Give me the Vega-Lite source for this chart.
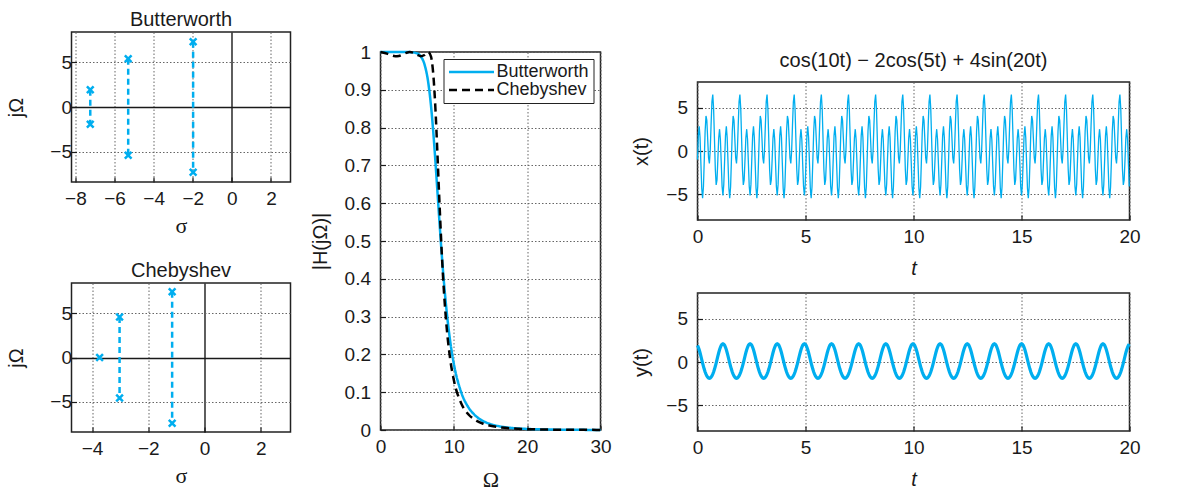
{
"$schema": "https://vega.github.io/schema/vega-lite/v6.json",
"background": "white",
"padding": {"left": 5.5, "top": 0, "right": 0, "bottom": 0},
"spacing": 18,
"resolve": {"scale": {"color": "independent", "strokeDash": "independent"}, "legend": {"color": "independent", "strokeDash": "independent"}},
"config": {
  "font": "Liberation Sans",
  "view": {"stroke": null},
  "axis": {"labelFont": "Liberation Sans", "labelFontSize": 19, "titleFont": "Liberation Sans", "titleFontSize": 20, "titleFontWeight": "normal", "titleColor": "#1a1a1a", "labelColor": "#1a1a1a", "domain": false, "tickColor": "#1a1a1a", "tickSize": -5, "tickWidth": 1.2, "labelPadding": 15, "titlePadding": 11, "grid": true, "gridColor": "#666666", "gridDash": [1.5, 2], "gridWidth": 1, "labelFlush": false, "labelOverlap": false},
  "axisX": {"labelPadding": 12},
  "title": {"font": "Liberation Sans", "fontSize": 20, "fontWeight": "normal", "color": "#1a1a1a", "offset": 2},
  "legend": {"labelFont": "Liberation Sans"}
},
"datasets": {
  "bw": [
    {"s": -7.24, "w": 1.94, "pair": "a"}, {"s": -7.24, "w": -1.94, "pair": "a"},
    {"s": -5.3, "w": 5.4, "pair": "b"}, {"s": -5.3, "w": -5.4, "pair": "b"},
    {"s": -1.98, "w": 7.3, "pair": "c"}, {"s": -1.98, "w": -7.3, "pair": "c"}
  ],
  "ch": [
    {"s": -3.73, "w": 0, "pair": "r"},
    {"s": -3.02, "w": 4.6, "pair": "b"}, {"s": -3.02, "w": -4.6, "pair": "b"},
    {"s": -1.15, "w": 7.45, "pair": "c"}, {"s": -1.15, "w": -7.45, "pair": "c"}
  ],
  "mag": [
    {"w": 0, "H": 1, "f": "Butterworth"}, {"w": 1, "H": 1, "f": "Butterworth"}, {"w": 2, "H": 1, "f": "Butterworth"}, {"w": 3, "H": 1, "f": "Butterworth"}, {"w": 4, "H": 0.9997, "f": "Butterworth"}, {"w": 5, "H": 0.9962, "f": "Butterworth"}, {"w": 5.5, "H": 0.9881, "f": "Butterworth"}, {"w": 6, "H": 0.9673, "f": "Butterworth"}, {"w": 6.5, "H": 0.9207, "f": "Butterworth"}, {"w": 7, "H": 0.8342, "f": "Butterworth"}, {"w": 7.25, "H": 0.7748, "f": "Butterworth"}, {"w": 7.5, "H": 0.7071, "f": "Butterworth"}, {"w": 7.75, "H": 0.6347, "f": "Butterworth"}, {"w": 8, "H": 0.5617, "f": "Butterworth"}, {"w": 8.5, "H": 0.4268, "f": "Butterworth"}, {"w": 9, "H": 0.3176, "f": "Butterworth"}, {"w": 9.5, "H": 0.2353, "f": "Butterworth"}, {"w": 10, "H": 0.1752, "f": "Butterworth"}, {"w": 11, "H": 0.1, "f": "Butterworth"}, {"w": 12, "H": 0.0595, "f": "Butterworth"}, {"w": 13, "H": 0.0369, "f": "Butterworth"}, {"w": 14, "H": 0.0236, "f": "Butterworth"}, {"w": 15, "H": 0.0156, "f": "Butterworth"}, {"w": 16, "H": 0.0106, "f": "Butterworth"}, {"w": 18, "H": 0.0052, "f": "Butterworth"}, {"w": 20, "H": 0.0028, "f": "Butterworth"}, {"w": 25, "H": 0.0007, "f": "Butterworth"}, {"w": 30, "H": 0.0002, "f": "Butterworth"},
    {"w": 0, "H": 1, "f": "Chebyshev"}, {"w": 1, "H": 0.995, "f": "Chebyshev"}, {"w": 1.5, "H": 0.9911, "f": "Chebyshev"}, {"w": 2, "H": 0.9889, "f": "Chebyshev"}, {"w": 2.5, "H": 0.9897, "f": "Chebyshev"}, {"w": 3, "H": 0.9933, "f": "Chebyshev"}, {"w": 3.5, "H": 0.9976, "f": "Chebyshev"}, {"w": 4, "H": 1, "f": "Chebyshev"}, {"w": 4.5, "H": 0.998, "f": "Chebyshev"}, {"w": 5, "H": 0.9928, "f": "Chebyshev"}, {"w": 5.5, "H": 0.9888, "f": "Chebyshev"}, {"w": 6, "H": 0.9921, "f": "Chebyshev"}, {"w": 6.5, "H": 1, "f": "Chebyshev"}, {"w": 6.9, "H": 0.987, "f": "Chebyshev"}, {"w": 7, "H": 0.9764, "f": "Chebyshev"}, {"w": 7.25, "H": 0.928, "f": "Chebyshev"}, {"w": 7.5, "H": 0.846, "f": "Chebyshev"}, {"w": 7.75, "H": 0.737, "f": "Chebyshev"}, {"w": 8, "H": 0.62, "f": "Chebyshev"}, {"w": 8.5, "H": 0.415, "f": "Chebyshev"}, {"w": 9, "H": 0.276, "f": "Chebyshev"}, {"w": 9.5, "H": 0.188, "f": "Chebyshev"}, {"w": 10, "H": 0.132, "f": "Chebyshev"}, {"w": 11, "H": 0.0707, "f": "Chebyshev"}, {"w": 12, "H": 0.0411, "f": "Chebyshev"}, {"w": 13, "H": 0.0255, "f": "Chebyshev"}, {"w": 14, "H": 0.0166, "f": "Chebyshev"}, {"w": 15, "H": 0.0112, "f": "Chebyshev"}, {"w": 16, "H": 0.0078, "f": "Chebyshev"}, {"w": 18, "H": 0.0041, "f": "Chebyshev"}, {"w": 20, "H": 0.0023, "f": "Chebyshev"}, {"w": 25, "H": 0.0007, "f": "Chebyshev"}, {"w": 30, "H": 0.0003, "f": "Chebyshev"}
  ],
  "sig": [
{"t":0,"x":-1,"y":1.93},{"t":0.039,"x":1.79,"y":1.71},{"t":0.079,"x":2.86,"y":1.41},{"t":0.118,"x":1.55,"y":1.07},{"t":0.157,"x":-1.41,"y":0.68},{"t":0.196,"x":-4.32,"y":0.28},{"t":0.236,"x":-5.47,"y":-0.12},{"t":0.275,"x":-4.14,"y":-0.5},{"t":0.314,"x":-1,"y":-0.85},{"t":0.353,"x":2.29,"y":-1.16},{"t":0.393,"x":4.06,"y":-1.41},{"t":0.432,"x":3.56,"y":-1.62},{"t":0.471,"x":1.41,"y":-1.76},{"t":0.511,"x":-0.78,"y":-1.85},{"t":0.55,"x":-1.45,"y":-1.88},{"t":0.589,"x":0.06,"y":-1.85},{"t":0.628,"x":3,"y":-1.76},{"t":0.668,"x":5.71,"y":-1.62},{"t":0.707,"x":6.55,"y":-1.41},{"t":0.746,"x":4.87,"y":-1.16},{"t":0.785,"x":1.41,"y":-0.85},{"t":0.825,"x":-2.1,"y":-0.5},{"t":0.864,"x":-3.94,"y":-0.12},{"t":0.903,"x":-3.36,"y":0.28},{"t":0.942,"x":-1,"y":0.68},{"t":0.982,"x":1.51,"y":1.07},{"t":1.021,"x":2.53,"y":1.41},{"t":1.06,"x":1.33,"y":1.71},{"t":1.1,"x":-1.41,"y":1.93},{"t":1.139,"x":-4.11,"y":2.07},{"t":1.178,"x":-5.14,"y":2.12},{"t":1.217,"x":-3.87,"y":2.07},
{"t":1.257,"x":-1,"y":1.93},{"t":1.296,"x":1.79,"y":1.71},{"t":1.335,"x":2.86,"y":1.41},{"t":1.374,"x":1.55,"y":1.07},{"t":1.414,"x":-1.41,"y":0.68},{"t":1.453,"x":-4.32,"y":0.28},{"t":1.492,"x":-5.47,"y":-0.12},{"t":1.532,"x":-4.14,"y":-0.5},{"t":1.571,"x":-1,"y":-0.85},{"t":1.61,"x":2.29,"y":-1.16},{"t":1.649,"x":4.06,"y":-1.41},{"t":1.689,"x":3.56,"y":-1.62},{"t":1.728,"x":1.41,"y":-1.76},{"t":1.767,"x":-0.78,"y":-1.85},{"t":1.806,"x":-1.45,"y":-1.88},{"t":1.846,"x":0.06,"y":-1.85},{"t":1.885,"x":3,"y":-1.76},{"t":1.924,"x":5.71,"y":-1.62},{"t":1.963,"x":6.55,"y":-1.41},{"t":2.003,"x":4.87,"y":-1.16},{"t":2.042,"x":1.41,"y":-0.85},{"t":2.081,"x":-2.1,"y":-0.5},{"t":2.121,"x":-3.94,"y":-0.12},{"t":2.16,"x":-3.36,"y":0.28},{"t":2.199,"x":-1,"y":0.68},{"t":2.238,"x":1.51,"y":1.07},{"t":2.278,"x":2.53,"y":1.41},{"t":2.317,"x":1.33,"y":1.71},{"t":2.356,"x":-1.41,"y":1.93},{"t":2.395,"x":-4.11,"y":2.07},{"t":2.435,"x":-5.14,"y":2.12},{"t":2.474,"x":-3.87,"y":2.07},
{"t":2.513,"x":-1,"y":1.93},{"t":2.553,"x":1.79,"y":1.71},{"t":2.592,"x":2.86,"y":1.41},{"t":2.631,"x":1.55,"y":1.07},{"t":2.67,"x":-1.41,"y":0.68},{"t":2.71,"x":-4.32,"y":0.28},{"t":2.749,"x":-5.47,"y":-0.12},{"t":2.788,"x":-4.14,"y":-0.5},{"t":2.827,"x":-1,"y":-0.85},{"t":2.867,"x":2.29,"y":-1.16},{"t":2.906,"x":4.06,"y":-1.41},{"t":2.945,"x":3.56,"y":-1.62},{"t":2.985,"x":1.41,"y":-1.76},{"t":3.024,"x":-0.78,"y":-1.85},{"t":3.063,"x":-1.45,"y":-1.88},{"t":3.102,"x":0.06,"y":-1.85},{"t":3.142,"x":3,"y":-1.76},{"t":3.181,"x":5.71,"y":-1.62},{"t":3.22,"x":6.55,"y":-1.41},{"t":3.259,"x":4.87,"y":-1.16},{"t":3.299,"x":1.41,"y":-0.85},{"t":3.338,"x":-2.1,"y":-0.5},{"t":3.377,"x":-3.94,"y":-0.12},{"t":3.416,"x":-3.36,"y":0.28},{"t":3.456,"x":-1,"y":0.68},{"t":3.495,"x":1.51,"y":1.07},{"t":3.534,"x":2.53,"y":1.41},{"t":3.574,"x":1.33,"y":1.71},{"t":3.613,"x":-1.41,"y":1.93},{"t":3.652,"x":-4.11,"y":2.07},{"t":3.691,"x":-5.14,"y":2.12},{"t":3.731,"x":-3.87,"y":2.07},
{"t":3.77,"x":-1,"y":1.93},{"t":3.809,"x":1.79,"y":1.71},{"t":3.848,"x":2.86,"y":1.41},{"t":3.888,"x":1.55,"y":1.07},{"t":3.927,"x":-1.41,"y":0.68},{"t":3.966,"x":-4.32,"y":0.28},{"t":4.006,"x":-5.47,"y":-0.12},{"t":4.045,"x":-4.14,"y":-0.5},{"t":4.084,"x":-1,"y":-0.85},{"t":4.123,"x":2.29,"y":-1.16},{"t":4.163,"x":4.06,"y":-1.41},{"t":4.202,"x":3.56,"y":-1.62},{"t":4.241,"x":1.41,"y":-1.76},{"t":4.28,"x":-0.78,"y":-1.85},{"t":4.32,"x":-1.45,"y":-1.88},{"t":4.359,"x":0.06,"y":-1.85},{"t":4.398,"x":3,"y":-1.76},{"t":4.438,"x":5.71,"y":-1.62},{"t":4.477,"x":6.55,"y":-1.41},{"t":4.516,"x":4.87,"y":-1.16},{"t":4.555,"x":1.41,"y":-0.85},{"t":4.595,"x":-2.1,"y":-0.5},{"t":4.634,"x":-3.94,"y":-0.12},{"t":4.673,"x":-3.36,"y":0.28},{"t":4.712,"x":-1,"y":0.68},{"t":4.752,"x":1.51,"y":1.07},{"t":4.791,"x":2.53,"y":1.41},{"t":4.83,"x":1.33,"y":1.71},{"t":4.869,"x":-1.41,"y":1.93},{"t":4.909,"x":-4.11,"y":2.07},{"t":4.948,"x":-5.14,"y":2.12},{"t":4.987,"x":-3.87,"y":2.07},
{"t":5.027,"x":-1,"y":1.93},{"t":5.066,"x":1.79,"y":1.71},{"t":5.105,"x":2.86,"y":1.41},{"t":5.144,"x":1.55,"y":1.07},{"t":5.184,"x":-1.41,"y":0.68},{"t":5.223,"x":-4.32,"y":0.28},{"t":5.262,"x":-5.47,"y":-0.12},{"t":5.301,"x":-4.14,"y":-0.5},{"t":5.341,"x":-1,"y":-0.85},{"t":5.38,"x":2.29,"y":-1.16},{"t":5.419,"x":4.06,"y":-1.41},{"t":5.459,"x":3.56,"y":-1.62},{"t":5.498,"x":1.41,"y":-1.76},{"t":5.537,"x":-0.78,"y":-1.85},{"t":5.576,"x":-1.45,"y":-1.88},{"t":5.616,"x":0.06,"y":-1.85},{"t":5.655,"x":3,"y":-1.76},{"t":5.694,"x":5.71,"y":-1.62},{"t":5.733,"x":6.55,"y":-1.41},{"t":5.773,"x":4.87,"y":-1.16},{"t":5.812,"x":1.41,"y":-0.85},{"t":5.851,"x":-2.1,"y":-0.5},{"t":5.89,"x":-3.94,"y":-0.12},{"t":5.93,"x":-3.36,"y":0.28},{"t":5.969,"x":-1,"y":0.68},{"t":6.008,"x":1.51,"y":1.07},{"t":6.048,"x":2.53,"y":1.41},{"t":6.087,"x":1.33,"y":1.71},{"t":6.126,"x":-1.41,"y":1.93},{"t":6.165,"x":-4.11,"y":2.07},{"t":6.205,"x":-5.14,"y":2.12},{"t":6.244,"x":-3.87,"y":2.07},
{"t":6.283,"x":-1,"y":1.93},{"t":6.322,"x":1.79,"y":1.71},{"t":6.362,"x":2.86,"y":1.41},{"t":6.401,"x":1.55,"y":1.07},{"t":6.44,"x":-1.41,"y":0.68},{"t":6.48,"x":-4.32,"y":0.28},{"t":6.519,"x":-5.47,"y":-0.12},{"t":6.558,"x":-4.14,"y":-0.5},{"t":6.597,"x":-1,"y":-0.85},{"t":6.637,"x":2.29,"y":-1.16},{"t":6.676,"x":4.06,"y":-1.41},{"t":6.715,"x":3.56,"y":-1.62},{"t":6.754,"x":1.41,"y":-1.76},{"t":6.794,"x":-0.78,"y":-1.85},{"t":6.833,"x":-1.45,"y":-1.88},{"t":6.872,"x":0.06,"y":-1.85},{"t":6.912,"x":3,"y":-1.76},{"t":6.951,"x":5.71,"y":-1.62},{"t":6.99,"x":6.55,"y":-1.41},{"t":7.029,"x":4.87,"y":-1.16},{"t":7.069,"x":1.41,"y":-0.85},{"t":7.108,"x":-2.1,"y":-0.5},{"t":7.147,"x":-3.94,"y":-0.12},{"t":7.186,"x":-3.36,"y":0.28},{"t":7.226,"x":-1,"y":0.68},{"t":7.265,"x":1.51,"y":1.07},{"t":7.304,"x":2.53,"y":1.41},{"t":7.343,"x":1.33,"y":1.71},{"t":7.383,"x":-1.41,"y":1.93},{"t":7.422,"x":-4.11,"y":2.07},{"t":7.461,"x":-5.14,"y":2.12},{"t":7.501,"x":-3.87,"y":2.07},
{"t":7.54,"x":-1,"y":1.93},{"t":7.579,"x":1.79,"y":1.71},{"t":7.618,"x":2.86,"y":1.41},{"t":7.658,"x":1.55,"y":1.07},{"t":7.697,"x":-1.41,"y":0.68},{"t":7.736,"x":-4.32,"y":0.28},{"t":7.775,"x":-5.47,"y":-0.12},{"t":7.815,"x":-4.14,"y":-0.5},{"t":7.854,"x":-1,"y":-0.85},{"t":7.893,"x":2.29,"y":-1.16},{"t":7.933,"x":4.06,"y":-1.41},{"t":7.972,"x":3.56,"y":-1.62},{"t":8.011,"x":1.41,"y":-1.76},{"t":8.05,"x":-0.78,"y":-1.85},{"t":8.09,"x":-1.45,"y":-1.88},{"t":8.129,"x":0.06,"y":-1.85},{"t":8.168,"x":3,"y":-1.76},{"t":8.207,"x":5.71,"y":-1.62},{"t":8.247,"x":6.55,"y":-1.41},{"t":8.286,"x":4.87,"y":-1.16},{"t":8.325,"x":1.41,"y":-0.85},{"t":8.364,"x":-2.1,"y":-0.5},{"t":8.404,"x":-3.94,"y":-0.12},{"t":8.443,"x":-3.36,"y":0.28},{"t":8.482,"x":-1,"y":0.68},{"t":8.522,"x":1.51,"y":1.07},{"t":8.561,"x":2.53,"y":1.41},{"t":8.6,"x":1.33,"y":1.71},{"t":8.639,"x":-1.41,"y":1.93},{"t":8.679,"x":-4.11,"y":2.07},{"t":8.718,"x":-5.14,"y":2.12},{"t":8.757,"x":-3.87,"y":2.07},
{"t":8.796,"x":-1,"y":1.93},{"t":8.836,"x":1.79,"y":1.71},{"t":8.875,"x":2.86,"y":1.41},{"t":8.914,"x":1.55,"y":1.07},{"t":8.954,"x":-1.41,"y":0.68},{"t":8.993,"x":-4.32,"y":0.28},{"t":9.032,"x":-5.47,"y":-0.12},{"t":9.071,"x":-4.14,"y":-0.5},{"t":9.111,"x":-1,"y":-0.85},{"t":9.15,"x":2.29,"y":-1.16},{"t":9.189,"x":4.06,"y":-1.41},{"t":9.228,"x":3.56,"y":-1.62},{"t":9.268,"x":1.41,"y":-1.76},{"t":9.307,"x":-0.78,"y":-1.85},{"t":9.346,"x":-1.45,"y":-1.88},{"t":9.386,"x":0.06,"y":-1.85},{"t":9.425,"x":3,"y":-1.76},{"t":9.464,"x":5.71,"y":-1.62},{"t":9.503,"x":6.55,"y":-1.41},{"t":9.543,"x":4.87,"y":-1.16},{"t":9.582,"x":1.41,"y":-0.85},{"t":9.621,"x":-2.1,"y":-0.5},{"t":9.66,"x":-3.94,"y":-0.12},{"t":9.7,"x":-3.36,"y":0.28},{"t":9.739,"x":-1,"y":0.68},{"t":9.778,"x":1.51,"y":1.07},{"t":9.817,"x":2.53,"y":1.41},{"t":9.857,"x":1.33,"y":1.71},{"t":9.896,"x":-1.41,"y":1.93},{"t":9.935,"x":-4.11,"y":2.07},{"t":9.975,"x":-5.14,"y":2.12},{"t":10.014,"x":-3.87,"y":2.07},
{"t":10.053,"x":-1,"y":1.93},{"t":10.092,"x":1.79,"y":1.71},{"t":10.132,"x":2.86,"y":1.41},{"t":10.171,"x":1.55,"y":1.07},{"t":10.21,"x":-1.41,"y":0.68},{"t":10.249,"x":-4.32,"y":0.28},{"t":10.289,"x":-5.47,"y":-0.12},{"t":10.328,"x":-4.14,"y":-0.5},{"t":10.367,"x":-1,"y":-0.85},{"t":10.407,"x":2.29,"y":-1.16},{"t":10.446,"x":4.06,"y":-1.41},{"t":10.485,"x":3.56,"y":-1.62},{"t":10.524,"x":1.41,"y":-1.76},{"t":10.564,"x":-0.78,"y":-1.85},{"t":10.603,"x":-1.45,"y":-1.88},{"t":10.642,"x":0.06,"y":-1.85},{"t":10.681,"x":3,"y":-1.76},{"t":10.721,"x":5.71,"y":-1.62},{"t":10.76,"x":6.55,"y":-1.41},{"t":10.799,"x":4.87,"y":-1.16},{"t":10.839,"x":1.41,"y":-0.85},{"t":10.878,"x":-2.1,"y":-0.5},{"t":10.917,"x":-3.94,"y":-0.12},{"t":10.956,"x":-3.36,"y":0.28},{"t":10.996,"x":-1,"y":0.68},{"t":11.035,"x":1.51,"y":1.07},{"t":11.074,"x":2.53,"y":1.41},{"t":11.113,"x":1.33,"y":1.71},{"t":11.153,"x":-1.41,"y":1.93},{"t":11.192,"x":-4.11,"y":2.07},{"t":11.231,"x":-5.14,"y":2.12},{"t":11.27,"x":-3.87,"y":2.07},
{"t":11.31,"x":-1,"y":1.93},{"t":11.349,"x":1.79,"y":1.71},{"t":11.388,"x":2.86,"y":1.41},{"t":11.428,"x":1.55,"y":1.07},{"t":11.467,"x":-1.41,"y":0.68},{"t":11.506,"x":-4.32,"y":0.28},{"t":11.545,"x":-5.47,"y":-0.12},{"t":11.585,"x":-4.14,"y":-0.5},{"t":11.624,"x":-1,"y":-0.85},{"t":11.663,"x":2.29,"y":-1.16},{"t":11.702,"x":4.06,"y":-1.41},{"t":11.742,"x":3.56,"y":-1.62},{"t":11.781,"x":1.41,"y":-1.76},{"t":11.82,"x":-0.78,"y":-1.85},{"t":11.86,"x":-1.45,"y":-1.88},{"t":11.899,"x":0.06,"y":-1.85},{"t":11.938,"x":3,"y":-1.76},{"t":11.977,"x":5.71,"y":-1.62},{"t":12.017,"x":6.55,"y":-1.41},{"t":12.056,"x":4.87,"y":-1.16},{"t":12.095,"x":1.41,"y":-0.85},{"t":12.134,"x":-2.1,"y":-0.5},{"t":12.174,"x":-3.94,"y":-0.12},{"t":12.213,"x":-3.36,"y":0.28},{"t":12.252,"x":-1,"y":0.68},{"t":12.291,"x":1.51,"y":1.07},{"t":12.331,"x":2.53,"y":1.41},{"t":12.37,"x":1.33,"y":1.71},{"t":12.409,"x":-1.41,"y":1.93},{"t":12.449,"x":-4.11,"y":2.07},{"t":12.488,"x":-5.14,"y":2.12},{"t":12.527,"x":-3.87,"y":2.07},
{"t":12.566,"x":-1,"y":1.93},{"t":12.606,"x":1.79,"y":1.71},{"t":12.645,"x":2.86,"y":1.41},{"t":12.684,"x":1.55,"y":1.07},{"t":12.723,"x":-1.41,"y":0.68},{"t":12.763,"x":-4.32,"y":0.28},{"t":12.802,"x":-5.47,"y":-0.12},{"t":12.841,"x":-4.14,"y":-0.5},{"t":12.881,"x":-1,"y":-0.85},{"t":12.92,"x":2.29,"y":-1.16},{"t":12.959,"x":4.06,"y":-1.41},{"t":12.998,"x":3.56,"y":-1.62},{"t":13.038,"x":1.41,"y":-1.76},{"t":13.077,"x":-0.78,"y":-1.85},{"t":13.116,"x":-1.45,"y":-1.88},{"t":13.155,"x":0.06,"y":-1.85},{"t":13.195,"x":3,"y":-1.76},{"t":13.234,"x":5.71,"y":-1.62},{"t":13.273,"x":6.55,"y":-1.41},{"t":13.313,"x":4.87,"y":-1.16},{"t":13.352,"x":1.41,"y":-0.85},{"t":13.391,"x":-2.1,"y":-0.5},{"t":13.43,"x":-3.94,"y":-0.12},{"t":13.47,"x":-3.36,"y":0.28},{"t":13.509,"x":-1,"y":0.68},{"t":13.548,"x":1.51,"y":1.07},{"t":13.587,"x":2.53,"y":1.41},{"t":13.627,"x":1.33,"y":1.71},{"t":13.666,"x":-1.41,"y":1.93},{"t":13.705,"x":-4.11,"y":2.07},{"t":13.744,"x":-5.14,"y":2.12},{"t":13.784,"x":-3.87,"y":2.07},
{"t":13.823,"x":-1,"y":1.93},{"t":13.862,"x":1.79,"y":1.71},{"t":13.902,"x":2.86,"y":1.41},{"t":13.941,"x":1.55,"y":1.07},{"t":13.98,"x":-1.41,"y":0.68},{"t":14.019,"x":-4.32,"y":0.28},{"t":14.059,"x":-5.47,"y":-0.12},{"t":14.098,"x":-4.14,"y":-0.5},{"t":14.137,"x":-1,"y":-0.85},{"t":14.176,"x":2.29,"y":-1.16},{"t":14.216,"x":4.06,"y":-1.41},{"t":14.255,"x":3.56,"y":-1.62},{"t":14.294,"x":1.41,"y":-1.76},{"t":14.334,"x":-0.78,"y":-1.85},{"t":14.373,"x":-1.45,"y":-1.88},{"t":14.412,"x":0.06,"y":-1.85},{"t":14.451,"x":3,"y":-1.76},{"t":14.491,"x":5.71,"y":-1.62},{"t":14.53,"x":6.55,"y":-1.41},{"t":14.569,"x":4.87,"y":-1.16},{"t":14.608,"x":1.41,"y":-0.85},{"t":14.648,"x":-2.1,"y":-0.5},{"t":14.687,"x":-3.94,"y":-0.12},{"t":14.726,"x":-3.36,"y":0.28},{"t":14.765,"x":-1,"y":0.68},{"t":14.805,"x":1.51,"y":1.07},{"t":14.844,"x":2.53,"y":1.41},{"t":14.883,"x":1.33,"y":1.71},{"t":14.923,"x":-1.41,"y":1.93},{"t":14.962,"x":-4.11,"y":2.07},{"t":15.001,"x":-5.14,"y":2.12},{"t":15.04,"x":-3.87,"y":2.07},
{"t":15.08,"x":-1,"y":1.93},{"t":15.119,"x":1.79,"y":1.71},{"t":15.158,"x":2.86,"y":1.41},{"t":15.197,"x":1.55,"y":1.07},{"t":15.237,"x":-1.41,"y":0.68},{"t":15.276,"x":-4.32,"y":0.28},{"t":15.315,"x":-5.47,"y":-0.12},{"t":15.355,"x":-4.14,"y":-0.5},{"t":15.394,"x":-1,"y":-0.85},{"t":15.433,"x":2.29,"y":-1.16},{"t":15.472,"x":4.06,"y":-1.41},{"t":15.512,"x":3.56,"y":-1.62},{"t":15.551,"x":1.41,"y":-1.76},{"t":15.59,"x":-0.78,"y":-1.85},{"t":15.629,"x":-1.45,"y":-1.88},{"t":15.669,"x":0.06,"y":-1.85},{"t":15.708,"x":3,"y":-1.76},{"t":15.747,"x":5.71,"y":-1.62},{"t":15.787,"x":6.55,"y":-1.41},{"t":15.826,"x":4.87,"y":-1.16},{"t":15.865,"x":1.41,"y":-0.85},{"t":15.904,"x":-2.1,"y":-0.5},{"t":15.944,"x":-3.94,"y":-0.12},{"t":15.983,"x":-3.36,"y":0.28},{"t":16.022,"x":-1,"y":0.68},{"t":16.061,"x":1.51,"y":1.07},{"t":16.101,"x":2.53,"y":1.41},{"t":16.14,"x":1.33,"y":1.71},{"t":16.179,"x":-1.41,"y":1.93},{"t":16.218,"x":-4.11,"y":2.07},{"t":16.258,"x":-5.14,"y":2.12},{"t":16.297,"x":-3.87,"y":2.07},
{"t":16.336,"x":-1,"y":1.93},{"t":16.376,"x":1.79,"y":1.71},{"t":16.415,"x":2.86,"y":1.41},{"t":16.454,"x":1.55,"y":1.07},{"t":16.493,"x":-1.41,"y":0.68},{"t":16.533,"x":-4.32,"y":0.28},{"t":16.572,"x":-5.47,"y":-0.12},{"t":16.611,"x":-4.14,"y":-0.5},{"t":16.65,"x":-1,"y":-0.85},{"t":16.69,"x":2.29,"y":-1.16},{"t":16.729,"x":4.06,"y":-1.41},{"t":16.768,"x":3.56,"y":-1.62},{"t":16.808,"x":1.41,"y":-1.76},{"t":16.847,"x":-0.78,"y":-1.85},{"t":16.886,"x":-1.45,"y":-1.88},{"t":16.925,"x":0.06,"y":-1.85},{"t":16.965,"x":3,"y":-1.76},{"t":17.004,"x":5.71,"y":-1.62},{"t":17.043,"x":6.55,"y":-1.41},{"t":17.082,"x":4.87,"y":-1.16},{"t":17.122,"x":1.41,"y":-0.85},{"t":17.161,"x":-2.1,"y":-0.5},{"t":17.2,"x":-3.94,"y":-0.12},{"t":17.239,"x":-3.36,"y":0.28},{"t":17.279,"x":-1,"y":0.68},{"t":17.318,"x":1.51,"y":1.07},{"t":17.357,"x":2.53,"y":1.41},{"t":17.397,"x":1.33,"y":1.71},{"t":17.436,"x":-1.41,"y":1.93},{"t":17.475,"x":-4.11,"y":2.07},{"t":17.514,"x":-5.14,"y":2.12},{"t":17.554,"x":-3.87,"y":2.07},
{"t":17.593,"x":-1,"y":1.93},{"t":17.632,"x":1.79,"y":1.71},{"t":17.671,"x":2.86,"y":1.41},{"t":17.711,"x":1.55,"y":1.07},{"t":17.75,"x":-1.41,"y":0.68},{"t":17.789,"x":-4.32,"y":0.28},{"t":17.829,"x":-5.47,"y":-0.12},{"t":17.868,"x":-4.14,"y":-0.5},{"t":17.907,"x":-1,"y":-0.85},{"t":17.946,"x":2.29,"y":-1.16},{"t":17.986,"x":4.06,"y":-1.41},{"t":18.025,"x":3.56,"y":-1.62},{"t":18.064,"x":1.41,"y":-1.76},{"t":18.103,"x":-0.78,"y":-1.85},{"t":18.143,"x":-1.45,"y":-1.88},{"t":18.182,"x":0.06,"y":-1.85},{"t":18.221,"x":3,"y":-1.76},{"t":18.261,"x":5.71,"y":-1.62},{"t":18.3,"x":6.55,"y":-1.41},{"t":18.339,"x":4.87,"y":-1.16},{"t":18.378,"x":1.41,"y":-0.85},{"t":18.418,"x":-2.1,"y":-0.5},{"t":18.457,"x":-3.94,"y":-0.12},{"t":18.496,"x":-3.36,"y":0.28},{"t":18.535,"x":-1,"y":0.68},{"t":18.575,"x":1.51,"y":1.07},{"t":18.614,"x":2.53,"y":1.41},{"t":18.653,"x":1.33,"y":1.71},{"t":18.692,"x":-1.41,"y":1.93},{"t":18.732,"x":-4.11,"y":2.07},{"t":18.771,"x":-5.14,"y":2.12},{"t":18.81,"x":-3.87,"y":2.07},
{"t":18.85,"x":-1,"y":1.93},{"t":18.889,"x":1.79,"y":1.71},{"t":18.928,"x":2.86,"y":1.41},{"t":18.967,"x":1.55,"y":1.07},{"t":19.007,"x":-1.41,"y":0.68},{"t":19.046,"x":-4.32,"y":0.28},{"t":19.085,"x":-5.47,"y":-0.12},{"t":19.124,"x":-4.14,"y":-0.5},{"t":19.164,"x":-1,"y":-0.85},{"t":19.203,"x":2.29,"y":-1.16},{"t":19.242,"x":4.06,"y":-1.41},{"t":19.282,"x":3.56,"y":-1.62},{"t":19.321,"x":1.41,"y":-1.76},{"t":19.36,"x":-0.78,"y":-1.85},{"t":19.399,"x":-1.45,"y":-1.88},{"t":19.439,"x":0.06,"y":-1.85},{"t":19.478,"x":3,"y":-1.76},{"t":19.517,"x":5.71,"y":-1.62},{"t":19.556,"x":6.55,"y":-1.41},{"t":19.596,"x":4.87,"y":-1.16},{"t":19.635,"x":1.41,"y":-0.85},{"t":19.674,"x":-2.1,"y":-0.5},{"t":19.714,"x":-3.94,"y":-0.12},{"t":19.753,"x":-3.36,"y":0.28},{"t":19.792,"x":-1,"y":0.68},{"t":19.831,"x":1.51,"y":1.07},{"t":19.871,"x":2.53,"y":1.41},{"t":19.91,"x":1.33,"y":1.71},{"t":19.949,"x":-1.41,"y":1.93},{"t":19.988,"x":-4.11,"y":2.07}
  ]
},
"hconcat": [
  {
    "spacing": 0, "bounds": "flush",
    "vconcat": [
      {"width": 219, "height": 32, "data": {"values": []}, "mark": "point", "encoding": {}},
      {
        "width": 219, "height": 150,
        "title": {"text": "Butterworth"},
        "view": {"stroke": "#222222", "strokeWidth": 1.5},
        "data": {"name": "bw"},
        "encoding": {
          "x": {"field": "s", "type": "quantitative", "scale": {"domain": [-8.2, 3.0], "nice": false, "zero": false}, "axis": {"values": [-8, -6, -4, -2, 0, 2], "title": "σ", "titleFont": "Liberation Serif", "titleFontSize": 22, "titlePadding": 7, "gridColor": {"condition": {"test": "datum.value === 0", "value": "#1a1a1a"}, "value": "#666666"}, "gridDash": {"condition": {"test": "datum.value === 0", "value": [1, 0]}, "value": [1.5, 2]}, "gridWidth": {"condition": {"test": "datum.value === 0", "value": 1.4}, "value": 1}}},
          "y": {"field": "w", "type": "quantitative", "scale": {"domain": [-8.4, 8.4], "nice": false, "zero": false}, "axis": {"values": [-5, 0, 5], "title": "jΩ", "labelPadding": 5, "titleX": -45, "titleBaseline": "bottom", "gridColor": {"condition": {"test": "datum.value === 0", "value": "#1a1a1a"}, "value": "#666666"}, "gridDash": {"condition": {"test": "datum.value === 0", "value": [1, 0]}, "value": [1.5, 2]}, "gridWidth": {"condition": {"test": "datum.value === 0", "value": 1.4}, "value": 1}}}
        },
        "layer": [
          {"mark": {"type": "line", "color": "#00AEEF", "strokeWidth": 2.5, "strokeDash": [6, 4]}, "encoding": {"detail": {"field": "pair"}}},
          {"mark": {"type": "point", "shape": "M-1,-1L1,1M-1,1L1,-1", "filled": false, "color": "#00AEEF", "strokeWidth": 2.5, "size": 45, "opacity": 1}}
        ]
      },
      {"width": 219, "height": 101, "data": {"values": []}, "mark": "point", "encoding": {}},
      {
        "width": 219, "height": 149,
        "title": {"text": "Chebyshev"},
        "view": {"stroke": "#222222", "strokeWidth": 1.5},
        "data": {"name": "ch"},
        "encoding": {
          "x": {"field": "s", "type": "quantitative", "scale": {"domain": [-4.73, 3.06], "nice": false, "zero": false}, "axis": {"values": [-4, -2, 0, 2], "title": "σ", "titleFont": "Liberation Serif", "titleFontSize": 22, "titlePadding": 7, "gridColor": {"condition": {"test": "datum.value === 0", "value": "#1a1a1a"}, "value": "#666666"}, "gridDash": {"condition": {"test": "datum.value === 0", "value": [1, 0]}, "value": [1.5, 2]}, "gridWidth": {"condition": {"test": "datum.value === 0", "value": 1.4}, "value": 1}}},
          "y": {"field": "w", "type": "quantitative", "scale": {"domain": [-8.45, 8.45], "nice": false, "zero": false}, "axis": {"values": [-5, 0, 5], "title": "jΩ", "labelPadding": 5, "titleX": -45, "titleBaseline": "bottom", "gridColor": {"condition": {"test": "datum.value === 0", "value": "#1a1a1a"}, "value": "#666666"}, "gridDash": {"condition": {"test": "datum.value === 0", "value": [1, 0]}, "value": [1.5, 2]}, "gridWidth": {"condition": {"test": "datum.value === 0", "value": 1.4}, "value": 1}}}
        },
        "layer": [
          {"mark": {"type": "line", "color": "#00AEEF", "strokeWidth": 2.5, "strokeDash": [6, 4]}, "encoding": {"detail": {"field": "pair"}}},
          {"mark": {"type": "point", "shape": "M-1,-1L1,1M-1,1L1,-1", "filled": false, "color": "#00AEEF", "strokeWidth": 2.5, "size": 45, "opacity": 1}}
        ]
      }
    ]
  },
  {
    "spacing": 0, "bounds": "flush",
    "resolve": {"scale": {"color": "independent", "strokeDash": "independent"}, "legend": {"color": "independent", "strokeDash": "independent"}},
    "vconcat": [
      {"width": 220, "height": 52, "data": {"values": []}, "mark": "point", "encoding": {}},
      {
        "width": 220, "height": 378,
        "view": {"stroke": "#222222", "strokeWidth": 1.5},
        "data": {"name": "mag"},
        "mark": {"type": "line", "strokeWidth": 2.5, "interpolate": "monotone"},
        "encoding": {
          "x": {"field": "w", "type": "quantitative", "scale": {"domain": [0, 30], "nice": false}, "axis": {"values": [0, 10, 20, 30], "title": "Ω", "titleFont": "Liberation Serif", "titleFontSize": 22, "titlePadding": 13}},
          "y": {"field": "H", "type": "quantitative", "scale": {"domain": [0, 1], "nice": false}, "axis": {"values": [0, 0.1, 0.2, 0.3, 0.4, 0.5, 0.6, 0.7, 0.8, 0.9, 1], "format": "~g", "title": "|H(jΩ)|", "titleX": -50, "titleBaseline": "bottom"}},
          "color": {"field": "f", "type": "nominal", "scale": {"domain": ["Butterworth", "Chebyshev"], "range": ["#00AEEF", "#000000"]}, "legend": {"title": null, "orient": "top-right", "offset": 7, "fillColor": "white", "strokeColor": "#222222", "padding": 4, "rowPadding": 0, "labelFontSize": 18, "labelColor": "#1a1a1a", "symbolType": "M-3,0L3,0", "symbolStrokeWidth": 2.5, "symbolSize": 225, "symbolOffset": 15, "labelOffset": 16}},
          "strokeDash": {"field": "f", "type": "nominal", "scale": {"domain": ["Butterworth", "Chebyshev"], "range": [[1, 0], [8, 5]]}, "legend": {"title": null, "orient": "top-right", "offset": 7, "fillColor": "white", "strokeColor": "#222222", "padding": 4, "rowPadding": 0, "labelFontSize": 18, "labelColor": "#1a1a1a", "symbolType": "M-3,0L3,0", "symbolStrokeWidth": 2.5, "symbolSize": 225, "symbolOffset": 15, "labelOffset": 16}}
        }
      }
    ]
  },
  {
    "spacing": 0, "bounds": "flush",
    "vconcat": [
      {"width": 432, "height": 82, "data": {"values": []}, "mark": "point", "encoding": {}},
      {
        "width": 432, "height": 138,
        "title": {"text": "cos(10t) − 2cos(5t) + 4sin(20t)", "offset": 11},
        "view": {"stroke": "#222222", "strokeWidth": 1.5},
        "data": {"name": "sig"},
        "mark": {"type": "line", "color": "#00AEEF", "strokeWidth": 1.3},
        "encoding": {
          "x": {"field": "t", "type": "quantitative", "scale": {"domain": [0, 20], "nice": false}, "axis": {"values": [0, 5, 10, 15, 20], "title": "t", "titleFontStyle": "italic", "titlePadding": 12}},
          "y": {"field": "x", "type": "quantitative", "scale": {"domain": [-8, 8], "nice": false}, "axis": {"values": [-5, 0, 5], "title": "x(t)", "titleX": -46, "titleBaseline": "bottom"}}
        }
      },
      {"width": 432, "height": 73, "data": {"values": []}, "mark": "point", "encoding": {}},
      {
        "width": 432, "height": 138,
        "view": {"stroke": "#222222", "strokeWidth": 1.5},
        "data": {"name": "sig"},
        "mark": {"type": "line", "color": "#00AEEF", "strokeWidth": 3.2},
        "encoding": {
          "x": {"field": "t", "type": "quantitative", "scale": {"domain": [0, 20], "nice": false}, "axis": {"values": [0, 5, 10, 15, 20], "title": "t", "titleFontStyle": "italic", "titlePadding": 12}},
          "y": {"field": "y", "type": "quantitative", "scale": {"domain": [-8, 8], "nice": false}, "axis": {"values": [-5, 0, 5], "title": "y(t)", "titleX": -46, "titleBaseline": "bottom"}}
        }
      }
    ]
  }
]
}
